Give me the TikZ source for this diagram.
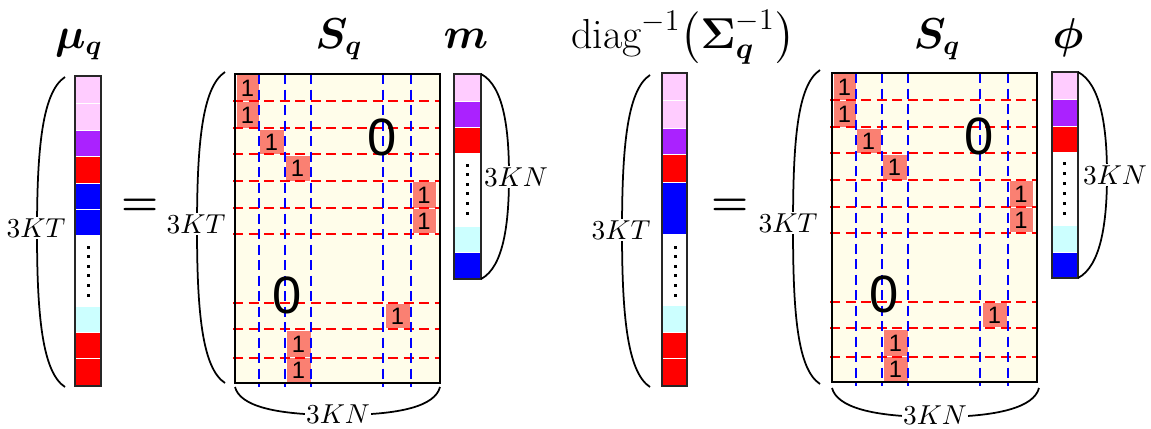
\documentclass[tikz,border=0pt]{standalone}
\usepackage{amsmath}
\usepackage{bm}
\usepackage{fontspec}
\newfontfamily\digitfont{Liberation Sans}
\definecolor{cpink}{RGB}{255,204,255}
\definecolor{cpurple}{RGB}{170,34,255}
\definecolor{cred}{RGB}{255,0,0}
\definecolor{cblue}{RGB}{0,0,255}
\definecolor{ccyan}{RGB}{204,255,255}
\definecolor{csalmon}{RGB}{250,128,114}
\definecolor{civory}{RGB}{255,253,234}
\tikzset{
  vcell/.style={draw=white, line width=0.4pt},
  vborder/.style={draw=black!85, line width=0.8pt},
  scell/.style={fill=csalmon, draw=white, line width=0.4pt},
  rdash/.style={draw=cred, line width=0.8pt, dash pattern=on 4pt off 2.2pt},
  bdash/.style={draw=cblue, line width=0.8pt, dash pattern=on 4pt off 2.2pt},
  mborder/.style={draw=black, line width=0.8pt},
  paren/.style={draw=black, line width=0.7pt},
  lab/.style={fill=white, inner sep=0.6pt, font=\fontsize{10.5pt}{12pt}\selectfont},
  title/.style={anchor=base, inner sep=0pt, font=\fontsize{16pt}{19pt}\selectfont},
  one/.style={inner sep=0pt, font=\digitfont\fontsize{9.5pt}{11pt}\selectfont},
  zero/.style={inner sep=0pt, font=\digitfont\fontsize{21pt}{24pt}\selectfont},
  eqsign/.style={inner sep=0pt, font=\fontsize{17pt}{17pt}\selectfont\bfseries},
}
\newcommand\dotcol[3]{% x, y0, step
  \foreach \k in {0,...,5}{\fill (#1-1.5,#2+\k*#3-1.5) rectangle (#1+1.5,#2+\k*#3+1.5);}}
\newcommand\smatrix[1]{% name prefix
  \fill[civory] (235,74) rectangle (440,383);
  \foreach \xa/\xb/\ya/\yb in {236/259/74/101, 236/259/101/128, 259/284/129/154, 285/310/155/181,
      412/436/181/208, 412/436/208/233, 385/410/303/328, 286/311/330/357, 286/311/357/382}{
    \path[scell] (\xa,\ya) rectangle (\xb,\yb);}
  \foreach \yy in {101,128,154,181,208,234,303,329,358}{\draw[rdash] (233,\yy) -- (440,\yy);}
  \foreach \xx in {259,285,311,383,411}{\draw[bdash] (\xx,74) -- (\xx,387);}
  \draw[mborder] (235,74) rectangle (440,383);
  \foreach \cx/\cy [count=\n] in {247.5/88, 247.5/115, 271.5/142, 297.5/168, 424/195, 424/221, 397.5/316, 298.5/344, 298.5/370}{
    \node[one] (#1one\n) at (\cx,\cy) {1};}
  \node[zero] (#1zeroA) at (382,137) {0};
  \node[zero] (#1zeroB) at (287,295) {0};
}
\begin{document}
\begin{tikzpicture}[x=0.4pt,y=-0.4pt]
\useasboundingbox (0,0) rectangle (1151,428);
\fill[white] (0,0) rectangle (1151,428);

% ---------- left half ----------
% mu_q vector
\foreach \ya/\yb/\cc in {76/103/cpink, 103/130/cpink, 130/156/cpurple, 156/183/cred, 183/209/cblue,
    209/235/cblue, 235/306/white, 306/332/ccyan, 332/358/cred, 358/386/cred}{
  \path[vcell, fill=\cc] (75,\ya) rectangle (101,\yb);}
\draw[vborder] (75,76) rectangle (101,386);
\dotcol{88}{247}{9.6}
\draw[paren] (65,77) .. controls (42,92) and (37,150) .. (37,232) .. controls (37,314) and (42,372) .. (65,387);
\node[lab] (lmu) at (36,228) {$3KT$};
\node[title] (tmu) at (79,48) {$\bm{\mu_{q}}$};

\node[eqsign] (eq1) at (140,207) {=};

% S_q matrix (left)
\smatrix{L}
\draw[paren] (225,72) .. controls (202,87) and (197,145) .. (197,228) .. controls (197,311) and (202,368) .. (225,383);
\node[lab] (lS) at (196,224) {$3KT$};
\draw[paren] (235,387) .. controls (240,406) and (275,415) .. (338,415) .. controls (401,415) and (435,406) .. (440,387);
\node[lab] (bS) at (338,414) {$3KN$};
\node[title] (tS) at (339,48) {$\bm{S_{q}}$};

% m vector
\foreach \ya/\yb/\cc in {74/101/cpink, 101/127/cpurple, 127/153/cred, 153/226/white, 226/252/ccyan, 252/279/cblue}{
  \path[vcell, fill=\cc] (454,\ya) rectangle (481,\yb);}
\draw[vborder] (454,74) rectangle (481,279);
\dotcol{467}{165}{9.6}
\draw[paren] (481,74) .. controls (504,86) and (509,130) .. (509,176) .. controls (509,222) and (504,267) .. (481,279);
\node[lab] (lm) at (516,177) {$3KN$};
\node[title] (tm) at (466,48) {$\bm{m}$};

% ---------- right half ----------
\node[title, font=\fontsize{16.8pt}{20pt}\selectfont] (tdiag) at (683,48) {$\mathrm{diag}^{-1}\bigl(\bm{\Sigma}_{\bm{q}}^{-1}\bigr)$};
\foreach \ya/\yb/\cc in {73/100/cpink, 100/128/cpink, 128/154/cpurple, 154/182/cred, 182/234/cblue,
    234/305/white, 305/332/ccyan, 332/358/cred, 358/386/cred}{
  \path[vcell, fill=\cc] (662,\ya) rectangle (687,\yb);}
\draw[vborder] (662,73) rectangle (687,386);
\dotcol{675}{247}{9.6}
\draw[paren] (650,75) .. controls (627,90) and (622,148) .. (622,231) .. controls (622,314) and (627,372) .. (650,387);
\node[lab] (ld) at (621,230) {$3KT$};

\node[eqsign] (eq2) at (730,207) {=};

\begin{scope}[shift={(597,-1)}]
\smatrix{R}
\end{scope}
\draw[paren] (820,70) .. controls (797,85) and (793,143) .. (793,227) .. controls (793,311) and (797,369) .. (820,384);
\node[lab] (lS2) at (788,223) {$3KT$};
\draw[paren] (832,388) .. controls (837,407) and (872,417) .. (935.5,417) .. controls (999,417) and (1034,407) .. (1039,388);
\node[lab] (bS2) at (935,415) {$3KN$};
\node[title] (tS2) at (937,48) {$\bm{S_{q}}$};

% phi vector
\foreach \ya/\yb/\cc in {72/99/cpink, 99/126/cpurple, 126/152/cred, 152/225/white, 225/252/ccyan, 252/278/cblue}{
  \path[vcell, fill=\cc] (1052,\ya) rectangle (1078,\yb);}
\draw[vborder] (1052,72) rectangle (1078,278);
\dotcol{1064}{163}{10}
\draw[paren] (1078,72) .. controls (1101,84) and (1107,128) .. (1107,175) .. controls (1107,222) and (1101,266) .. (1078,278);
\node[lab] (lphi) at (1115,175) {$3KN$};
\node[title] (tphi) at (1068,48) {$\bm{\phi}$};
\end{tikzpicture}
\end{document}
